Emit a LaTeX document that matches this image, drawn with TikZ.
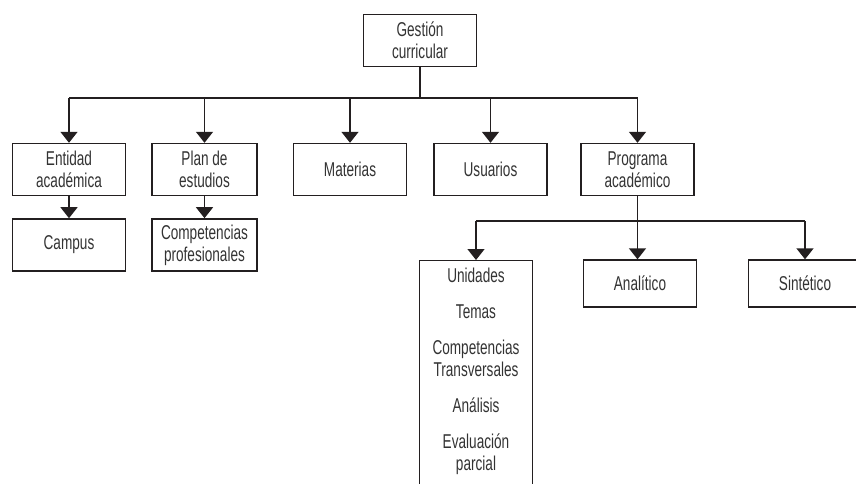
\documentclass[tikz,border=0pt]{standalone}
\usepackage{fontspec}
\setmainfont[FakeStretch=0.68]{Liberation Sans}
\usetikzlibrary{arrows.meta, positioning}
\definecolor{linea}{HTML}{231F20}
\definecolor{texto}{HTML}{333333}

\begin{document}
\begin{tikzpicture}[x=1pt, y=-1pt,
    node distance=22pt and 26pt,
    box/.style={rectangle, draw=linea, line width=1.4pt, text=texto,
                minimum width=113pt, minimum height=52pt, inner sep=2pt,
                align=center, font=\fontsize{20}{22}\selectfont},
    arr/.style={-{Triangle[width=17pt, length=11pt]}, line width=1.4pt, linea},
    bus/.style={line width=1.4pt, linea}
  ]
  \useasboundingbox (0,0) rectangle (856,483);
  \clip (0,0) rectangle (856,483);
  % nivel 1
  \node[box] (gestion) at (420,40.5) {Gestión\\curricular};
  % nivel 2
  \node[box] (entidad)  at (69,169.5)  {Entidad\\académica};
  \node[box, minimum width=105pt] (plan) at (204.5,169.5) {Plan de\\estudios};
  \node[box] (materias) at (350,169.5) {Materias};
  \node[box] (usuarios) at (490.5,169.5) {Usuarios};
  \node[box] (programa) at (637.5,169.5) {Programa\\académico};
  % nivel 3
  \node[box, below=of entidad] (campus) {Campus};
  \node[box, minimum width=105pt, below=of plan] (compet) {Competencias\\profesionales};
  \node[box, anchor=north, inner ysep=7pt] (unidades) at (476,260)
    {Unidades\\[14pt] Temas\\[14pt] Competencias\\Transversales\\[14pt]
     Análisis\\[14pt] Evaluación\\parcial\\[14pt]};
  \node[box, minimum height=47pt] (analitico) at (640,283.5) {Analítico};
  \node[box, minimum height=47pt] (sintetico) at (805,283.5) {Sintético};
  % conectores
  \coordinate (raiz) at (0,98);
  \coordinate (rama) at (0,221);
  \draw[bus] (gestion.south) -- (gestion.south |- raiz);
  \draw[bus] (entidad.north |- raiz) -- (programa.north |- raiz);
  \foreach \n in {entidad, plan, materias, usuarios, programa}
    \draw[arr] (\n.north |- raiz) -- (\n.north);
  \draw[arr] (entidad) -- (campus);
  \draw[arr] (plan) -- (compet);
  \draw[bus] (unidades.north |- rama) -- (sintetico.north |- rama);
  \draw[arr] (programa.south) -- (programa.south |- analitico.north);
  \draw[arr] (unidades.north |- rama) -- (unidades.north);
  \draw[arr] (sintetico.north |- rama) -- (sintetico.north);
\end{tikzpicture}
\end{document}
